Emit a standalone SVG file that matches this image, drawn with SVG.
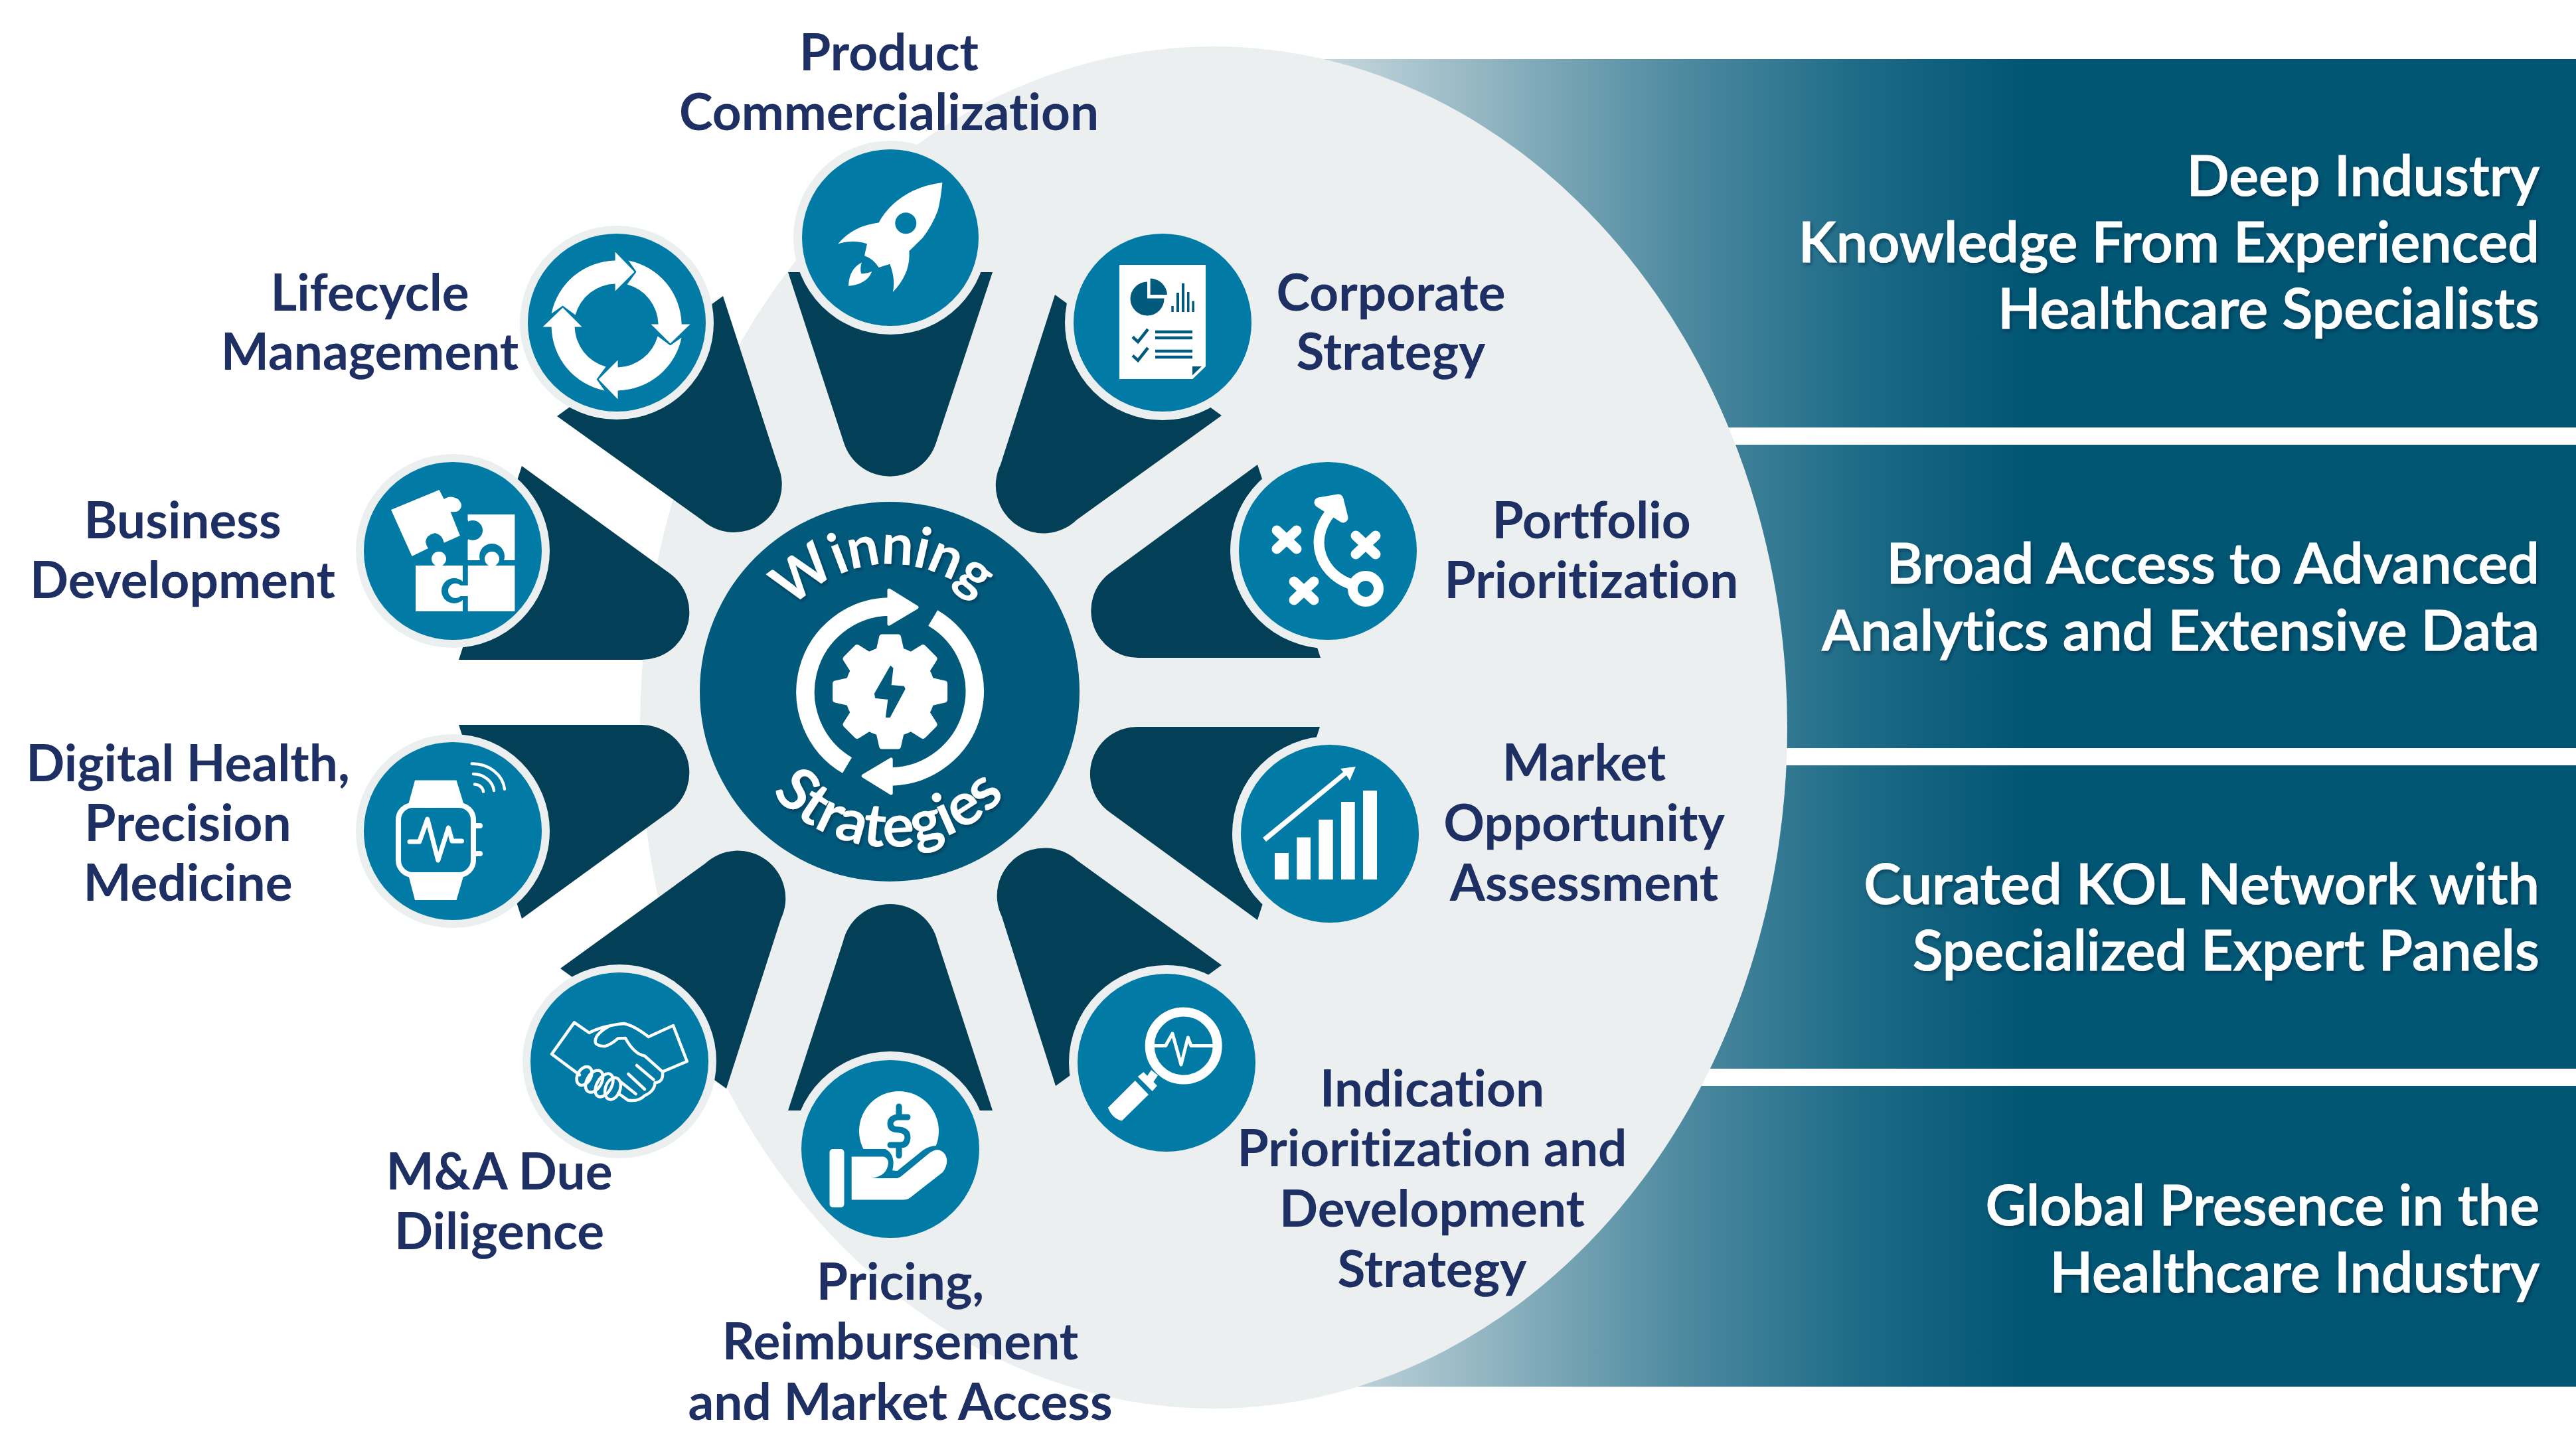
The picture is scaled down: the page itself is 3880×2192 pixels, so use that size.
<svg xmlns="http://www.w3.org/2000/svg" xmlns:xlink="http://www.w3.org/1999/xlink" width="3880" height="2192" viewBox="0 0 3880 2192">
<style>
text{font-variant-ligatures:none}
.lbl{font-family:"Lato","Liberation Sans",sans-serif;font-weight:700;font-size:76.5px;fill:#1e2f63;text-anchor:middle}
.val{font-family:"Lato","Liberation Sans",sans-serif;font-weight:600;font-size:84.5px;fill:#fff;stroke:#fff;stroke-width:1;text-anchor:end;filter:url(#sh)}
.hub{font-family:"Lato","Liberation Sans",sans-serif;font-weight:700;font-size:85px;letter-spacing:-1.5px;fill:#fff;text-anchor:middle;filter:url(#sh)}
.hub2{font-size:90px;letter-spacing:0}
.halo{fill:#ebeff0}.disc{fill:#017aa5}.w{fill:#fff}.t{fill:#017aa5}.d{fill:#015a7c}
.wedge{fill:#033f56}
.ls{fill:none;stroke:#fff;stroke-linecap:round;stroke-linejoin:round}
.ld{fill:none;stroke:#015a7c}
</style>
<defs>
<linearGradient id="g" gradientUnits="userSpaceOnUse" x1="2000" y1="0" x2="3050" y2="0">
<stop offset="0" stop-color="#c6d7dd"/><stop offset=".24" stop-color="#8fb3c0"/><stop offset=".5" stop-color="#4f8ba1"/><stop offset=".77" stop-color="#1c6a86"/><stop offset="1" stop-color="#015674"/>
</linearGradient>
<filter id="sh" x="-5%" y="-20%" width="110%" height="140%"><feDropShadow dx="2" dy="3" stdDeviation="2.5" flood-color="#001c2a" flood-opacity=".45"/></filter>
<path id="winArc" d="M1148,1042A192,192 0 0 1 1532,1042"/>
<path id="strArc" d="M1106,1042A234,234 0 0 0 1574,1042"/>
<path id="tooth" d="M-17,-60L-12,-82L12,-82L17,-60Z" fill="#fff" stroke="#fff" stroke-width="9" stroke-linejoin="round"/>
<path id="cyc" d="M-98,-18A100,100 0 0 1 -2,-98L-2,-111L27,-81L-2,-52L-2,-63A64,64 0 0 0 -62,-16L-81,-30Z" fill="#fff"/>
<path id="xm" d="M-15,-14L15,14M-15,14L15,-14" fill="none" stroke="#fff" stroke-width="15" stroke-linecap="round"/>
</defs>
<rect width="3880" height="2192" fill="#fff"/>
<g id="bands">
<rect x="1950" y="89" width="1930" height="555" fill="url(#g)"/>
<rect x="1950" y="670" width="1930" height="457" fill="url(#g)"/>
<rect x="1950" y="1153" width="1930" height="457" fill="url(#g)"/>
<rect x="1950" y="1636" width="1930" height="453" fill="url(#g)"/>
</g>
<ellipse id="backdrop" cx="1828" cy="1096" rx="864" ry="1026" fill="#ebeff0"/>
<g id="value-labels">
<text class="val"><tspan x="3825" y="295">Deep Industry</tspan><tspan x="3825" y="395">Knowledge From Experienced</tspan><tspan x="3825" y="495">Healthcare Specialists</tspan></text>
<text class="val"><tspan x="3825" y="879">Broad Access to Advanced</tspan><tspan x="3825" y="980">Analytics and Extensive Data</tspan></text>
<text class="val"><tspan x="3825" y="1362">Curated KOL Network with</tspan><tspan x="3825" y="1462">Specialized Expert Panels</tspan></text>
<text class="val"><tspan x="3825" y="1846">Global Presence in the</tspan><tspan x="3825" y="1947">Healthcare Industry</tspan></text>
</g>
<g id="connectors">
<path class="wedge" d="M1187,410L1271,667A73,73 0 0 0 1410,667L1495,410Z"/>
<path class="wedge" d="M1589,444L1507,700A72,72 0 0 0 1622,783L1840,626Z"/>
<path class="wedge" d="M1894,700L1672,863A71,71 0 0 0 1715,991L1989,991Z"/>
<path class="wedge" d="M1988,1095L1715,1095A71,71 0 0 0 1672,1224L1894,1386Z"/>
<path class="wedge" d="M1840,1454L1622,1296A72,72 0 0 0 1509,1381L1590,1636Z"/>
<path class="wedge" d="M1187,1673L1270,1418A73,73 0 0 1 1412,1418L1495,1673Z"/>
<path class="wedge" d="M844,1459L1062,1301A72,72 0 0 1 1176,1385L1094,1640Z"/>
<path class="wedge" d="M691,1092L966,1092A72,72 0 0 1 1009,1222L786,1384Z"/>
<path class="wedge" d="M786,702L1009,864A72,72 0 0 1 966,994L691,994Z"/>
<path class="wedge" d="M1089,446L1172,702A72,72 0 0 1 1058,784L839,627Z"/>
</g>
<g id="hub">
<circle cx="1340" cy="1042" r="286" fill="#015a7c"/>
<g transform="translate(1340.6,1042)">
<circle r="68" fill="#fff"/>
<use href="#tooth"/><use href="#tooth" transform="rotate(45)"/><use href="#tooth" transform="rotate(90)"/><use href="#tooth" transform="rotate(135)"/><use href="#tooth" transform="rotate(180)"/><use href="#tooth" transform="rotate(225)"/><use href="#tooth" transform="rotate(270)"/><use href="#tooth" transform="rotate(315)"/>
</g>
<path d="M1341.5,1004L1344.5,1007L1341.5,1033L1361,1034.5L1362.5,1038L1340,1080L1335,1080L1338.5,1053L1319,1051L1318,1045Z" fill="#015a7c" stroke="#015a7c" stroke-width="2" stroke-linejoin="round"/>
<g id="hub-arrow">
<path d="M1276,1153A128.5,128.5 0 0 1 1339,914" fill="none" stroke="#fff" stroke-width="27.5"/>
<path d="M1339,889L1381,915L1339,940Z" fill="#fff" stroke="#fff" stroke-width="5" stroke-linejoin="round"/>
</g>
<g transform="rotate(180 1340.6 1042)">
<path d="M1276,1153A128.5,128.5 0 0 1 1339,914" fill="none" stroke="#fff" stroke-width="27.5"/>
<path d="M1339,889L1381,915L1339,940Z" fill="#fff" stroke="#fff" stroke-width="5" stroke-linejoin="round"/>
</g>
<text class="hub"><textPath href="#winArc" startOffset="48%">Winning</textPath></text>
<text class="hub hub2"><textPath href="#strArc" startOffset="49.7%">Strategies</textPath></text>
</g>
<g id="node-product">
<circle class="halo" cx="1341" cy="358" r="146"/><circle class="disc" cx="1341" cy="358" r="133"/>
<path class="w" d="M1419.4,275Q1417,300 1412.8,316.8Q1404,340 1389.8,358.3L1369.4,378.2Q1372,412 1344.9,440Q1349,420 1340.3,397.7L1323.5,403Q1316,390 1302,385.2L1306,367.4Q1285,360 1262.2,367.4Q1285,340 1323.5,335.5Q1340,305 1374.5,287.8Q1395,278 1419.4,275Z"/>
<circle class="t" cx="1364.3" cy="336.3" r="16"/>
<path class="w" d="M1298,395.6Q1279,405 1278,430.8Q1306,428 1313.3,408.9Q1305,413 1297,412Q1295,403 1298,395.6Z"/>
<text class="lbl"><tspan x="1339" y="106">Product</tspan><tspan x="1339" y="196">Commercialization</tspan></text>
</g>
<g id="node-corporate">
<circle class="halo" cx="1751" cy="486" r="147"/><circle class="disc" cx="1751" cy="486" r="134"/>
<path class="w" d="M1686,399H1816V552L1796.4,571H1686Z"/>
<path class="d" d="M1796,552H1810L1796,565.6Z"/>
<path class="d" d="M1728,424.6V449.5H1753.5A25.5,25.5 0 1 1 1728,424.6Z"/>
<path class="d" d="M1732.6,419.6V444H1758A25.5,25.5 0 0 0 1732.6,419.6Z"/>
<path class="d" d="M1764.3,461h3.5v9h-3.5zM1772,441h4v29h-4zM1780,426.7h4v43.3h-4zM1788,440h3.5v30h-3.5zM1795.4,453.6h3.5v16.4h-3.5z"/>
<path class="ld" stroke-width="4.5" d="M1706,507.5L1714,515L1729,496M1706,535.7L1714,543L1729,524M1740,500H1796M1740,509H1796M1740,529H1796M1740,538H1796"/>
<text class="lbl"><tspan x="2095" y="468">Corporate</tspan><tspan x="2095" y="557">Strategy</tspan></text>
</g>
<g id="node-portfolio">
<circle class="halo" cx="2000" cy="830" r="147"/><circle class="disc" cx="2000" cy="830" r="134"/>
<use href="#xm" x="1938" y="813"/><use href="#xm" x="2057" y="821"/><use href="#xm" x="1964" y="890"/>
<circle cx="2057" cy="887" r="19.5" fill="none" stroke="#fff" stroke-width="15"/>
<path class="ls" stroke-width="16" stroke-linecap="butt" d="M2034,880C1985,862 1968,805 2012,764"/>
<path class="w" stroke="#fff" stroke-width="15" stroke-linejoin="round" stroke-linecap="round" d="M1987,757L2016,752L2023,780Z"/>
<text class="lbl"><tspan x="2397" y="811">Portfolio</tspan><tspan x="2397" y="901">Prioritization</tspan></text>
</g>
<g id="node-market">
<circle class="halo" cx="2003" cy="1256" r="147"/><circle class="disc" cx="2003" cy="1256" r="134"/>
<path class="w" d="M1920,1285h21v40h-21zM1953.3,1261.5h20.7v63.5h-20.7zM1986.3,1234.7h21.4v90.3h-21.4zM2020,1208h20.7v117h-20.7zM2053,1191h21v134h-21z"/>
<path class="w" d="M1902,1262L2023,1163L2019,1158L2042,1155L2033,1176L2028,1168L1907,1268Z"/>
<text class="lbl"><tspan x="2386" y="1176">Market</tspan><tspan x="2386" y="1267">Opportunity</tspan><tspan x="2386" y="1357">Assessment</tspan></text>
</g>
<g id="node-indication">
<circle class="halo" cx="1757" cy="1601" r="147"/><circle class="disc" cx="1757" cy="1601" r="134"/>
<circle cx="1782.7" cy="1575.5" r="51" fill="none" stroke="#fff" stroke-width="14"/>
<path class="ls" stroke-width="5" d="M1738,1575.5H1755.6L1766,1557L1779,1604L1789.3,1563L1794,1575.5H1827.6"/>
<path class="w" d="M1734,1612L1744,1620L1736,1632L1726,1624Z"/>
<path class="w" d="M1713.8,1622L1722.4,1615L1742.9,1635.6L1735.7,1643.9Z"/>
<path class="w" d="M1709.7,1628L1730,1649L1689.8,1688.6Q1675,1685 1668.9,1668.7Z"/>
<text class="lbl"><tspan x="2157" y="1667">Indication</tspan><tspan x="2157" y="1757">Prioritization and</tspan><tspan x="2157" y="1848">Development</tspan><tspan x="2157" y="1939">Strategy</tspan></text>
</g>
<g id="node-pricing">
<circle class="halo" cx="1341" cy="1731" r="147"/><circle class="disc" cx="1341" cy="1731" r="134"/>
<circle class="w" cx="1354" cy="1704" r="60"/>
<path d="M1367,1683H1351.5Q1341,1685 1341,1693Q1341,1702 1354,1702Q1367,1703 1367,1714Q1366,1725 1356.6,1725H1341M1354,1667V1679M1354,1729V1741" fill="none" stroke="#017aa5" stroke-width="9" stroke-linecap="round"/>
<path class="t" d="M1285,1731H1333.7Q1350,1740 1344,1764H1351.5L1390,1733Q1400,1726 1411,1726L1430,1760L1420,1830H1280Z"/>
<rect class="w" x="1249.5" y="1731" width="22" height="88" rx="5"/>
<path class="w" d="M1282.7,1742.5H1331Q1338,1745 1338,1752Q1336,1772 1313,1775H1351.5Q1356,1774 1360,1770L1400,1737Q1415,1726 1424,1740Q1430,1752 1420,1766L1374.5,1801.4Q1368,1807.6 1360,1807.6H1282.7Z"/>
<text class="lbl"><tspan x="1356" y="1958">Pricing,</tspan><tspan x="1356" y="2048">Reimbursement</tspan><tspan x="1356" y="2139">and Market Access</tspan></text>
</g>
<g id="node-ma">
<circle class="halo" cx="933" cy="1599" r="146"/><circle class="disc" cx="933" cy="1599" r="134"/>
<g class="ls" stroke-width="4.5">
<path d="M873,1619.4L831,1588L865,1540.4L887.5,1556Q905,1546 939.7,1542Q955,1545 976.8,1562L1014,1545L1034.8,1599L997.8,1614.6L971,1590.7Q955,1588 942,1564L930.8,1564.4Q920,1574 910.7,1576.3Q890,1576 899.6,1560Q907,1551 919.6,1545"/>
<path d="M997.8,1614.6Q1000,1630 986.6,1631Q986,1644 971,1650.5Q962,1660 946,1657.6L931,1647"/>
<path d="M959,1605L984.4,1626.5M946.4,1618L971,1641M935,1630L957.6,1648"/>
<ellipse cx="880" cy="1621" rx="10" ry="15" transform="rotate(30 880 1621)"/>
<ellipse cx="895" cy="1629" rx="11" ry="18" transform="rotate(30 895 1629)"/>
<ellipse cx="910" cy="1635" rx="11" ry="19" transform="rotate(30 910 1635)"/>
<ellipse cx="923" cy="1640" rx="11" ry="17" transform="rotate(20 923 1640)"/>
</g>
<text class="lbl"><tspan x="752" y="1792">M&amp;A Due</tspan><tspan x="752" y="1882">Diligence</tspan></text>
</g>
<g id="node-digital">
<circle class="halo" cx="682" cy="1252" r="146"/><circle class="disc" cx="682" cy="1252" r="134"/>
<path class="w" d="M625,1175.4H687.5L698.7,1212H615ZM615,1318H698.7L687.5,1356H625Z"/>
<rect x="600" y="1213" width="113" height="105" rx="22" fill="#017aa5" stroke="#fff" stroke-width="8"/>
<path class="ls" stroke-width="8" d="M717,1244H723M717,1286H723"/>
<path class="ls" stroke-width="7" d="M617,1268H631.7L643.8,1234L659.8,1296L675.4,1247L681,1267H695.5"/>
<path class="ls" stroke-width="4.5" d="M710.7,1150.5A49,43 0 0 1 760,1188.8M713,1166A32,28 0 0 1 744,1191M715,1181.6A14,12 0 0 1 728,1192.6"/>
<text class="lbl"><tspan x="283" y="1177">Digital Health,</tspan><tspan x="283" y="1267">Precision</tspan><tspan x="283" y="1357">Medicine</tspan></text>
</g>
<g id="node-business">
<circle class="halo" cx="682" cy="830" r="146"/><circle class="disc" cx="682" cy="830" r="134"/>
<path class="w" d="M589,768L661.6,738L668.8,752Q678,745 690,752Q700,762 690,770Q685,772 678.6,771L692.9,807L668.8,817.7Q666,805 655,803Q642,806 641,816Q642,822 645,826L620.5,838Z"/>
<path class="w" d="M704.5,775H775.4V844H704.5Z"/>
<circle class="t" cx="712" cy="799" r="15"/>
<rect class="t" x="697" y="784" width="8" height="30"/>
<circle class="t" cx="741" cy="838" r="19"/>
<path class="w" d="M626,852H697V921H626Z"/><circle class="w" cx="661" cy="842" r="11"/>
<path class="w" d="M704.5,852H775.4V921H704.5Z"/><circle class="w" cx="741" cy="842" r="11"/>
<circle class="t" cx="684" cy="890" r="19"/><rect class="t" x="697" y="852" width="7.5" height="69"/>
<circle class="w" cx="686" cy="890" r="11"/><rect class="w" x="690" y="882" width="15" height="16"/>
<text class="lbl"><tspan x="275" y="811">Business</tspan><tspan x="275" y="901">Development</tspan></text>
</g>
<g id="node-lifecycle">
<circle class="halo" cx="929" cy="486" r="146"/><circle class="disc" cx="929" cy="486" r="134"/>
<g transform="translate(928.6,490.4)"><use href="#cyc"/><use href="#cyc" transform="rotate(90)"/><use href="#cyc" transform="rotate(180)"/><use href="#cyc" transform="rotate(270)"/></g>
<text class="lbl"><tspan x="557" y="468">Lifecycle</tspan><tspan x="557" y="557">Management</tspan></text>
</g>
</svg>
